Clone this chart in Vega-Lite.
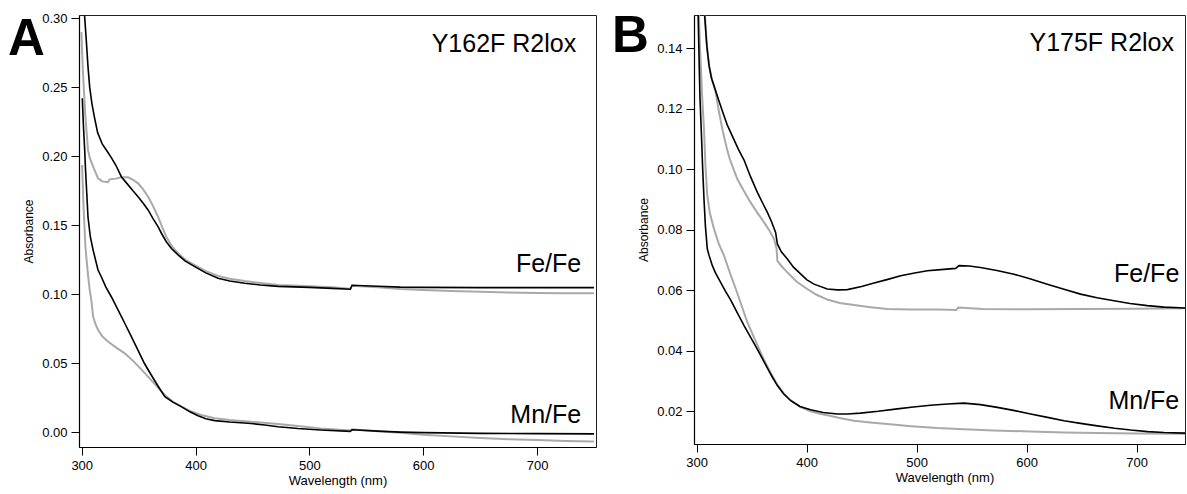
{
"$schema": "https://vega.github.io/schema/vega-lite/v6.json",
"background": "white",
"padding": {"left": 7, "top": 10, "right": 0, "bottom": 0},
"spacing": 14,
"config": {
  "font": "Liberation Sans",
  "view": {"stroke": "#222222", "strokeWidth": 1},
  "axis": {"grid": false, "domainColor": "black", "domainWidth": 1.2, "tickColor": "black", "tickSize": 8, "tickWidth": 1, "labelColor": "black", "labelFontSize": 13, "labelFont": "Liberation Sans", "titleFont": "Liberation Sans", "titleFontWeight": "normal", "titleColor": "black", "labelFlush": false, "labelOverlap": false, "labelPadding": 4},
  "axisX": {"titleFontSize": 13, "titlePadding": 2},
  "axisY": {"titleFontSize": 12, "titlePadding": 6}
},
"datasets": {
  "spectra": [
    {"p":"A","s":"Fe/Fe","t":"a","x":299.7,"y":0.290},{"p":"A","s":"Fe/Fe","t":"a","x":301,"y":0.262},{"p":"A","s":"Fe/Fe","t":"a","x":303.2,"y":0.2287},{"p":"A","s":"Fe/Fe","t":"a","x":305.5,"y":0.2046},{"p":"A","s":"Fe/Fe","t":"a","x":307,"y":0.199},{"p":"A","s":"Fe/Fe","t":"a","x":310,"y":0.1925},{"p":"A","s":"Fe/Fe","t":"a","x":314.3,"y":0.184},{"p":"A","s":"Fe/Fe","t":"a","x":318,"y":0.1818},{"p":"A","s":"Fe/Fe","t":"a","x":323,"y":0.1812},{"p":"A","s":"Fe/Fe","t":"a","x":324.6,"y":0.1833},{"p":"A","s":"Fe/Fe","t":"a","x":330,"y":0.1838},{"p":"A","s":"Fe/Fe","t":"a","x":334.8,"y":0.1848},{"p":"A","s":"Fe/Fe","t":"a","x":340.7,"y":0.1848},{"p":"A","s":"Fe/Fe","t":"a","x":345,"y":0.183},{"p":"A","s":"Fe/Fe","t":"a","x":349.5,"y":0.1804},{"p":"A","s":"Fe/Fe","t":"a","x":354,"y":0.176},{"p":"A","s":"Fe/Fe","t":"a","x":358.3,"y":0.1707},{"p":"A","s":"Fe/Fe","t":"a","x":362,"y":0.165},{"p":"A","s":"Fe/Fe","t":"a","x":367,"y":0.1562},{"p":"A","s":"Fe/Fe","t":"a","x":370.5,"y":0.149},{"p":"A","s":"Fe/Fe","t":"a","x":374.3,"y":0.1417},{"p":"A","s":"Fe/Fe","t":"a","x":379,"y":0.135},{"p":"A","s":"Fe/Fe","t":"a","x":384.6,"y":0.1297},{"p":"A","s":"Fe/Fe","t":"a","x":391,"y":0.125},{"p":"A","s":"Fe/Fe","t":"a","x":399.3,"y":0.1212},{"p":"A","s":"Fe/Fe","t":"a","x":409,"y":0.1168},{"p":"A","s":"Fe/Fe","t":"a","x":419.8,"y":0.1133},{"p":"A","s":"Fe/Fe","t":"a","x":430,"y":0.1112},{"p":"A","s":"Fe/Fe","t":"a","x":443.2,"y":0.1096},{"p":"A","s":"Fe/Fe","t":"a","x":457,"y":0.1082},{"p":"A","s":"Fe/Fe","t":"a","x":472.5,"y":0.1067},{"p":"A","s":"Fe/Fe","t":"a","x":500,"y":0.1058},{"p":"A","s":"Fe/Fe","t":"a","x":520,"y":0.105},{"p":"A","s":"Fe/Fe","t":"a","x":536,"y":0.104},{"p":"A","s":"Fe/Fe","t":"a","x":537.5,"y":0.1062},{"p":"A","s":"Fe/Fe","t":"a","x":560,"y":0.105},{"p":"A","s":"Fe/Fe","t":"a","x":580,"y":0.1038},{"p":"A","s":"Fe/Fe","t":"a","x":600,"y":0.1031},{"p":"A","s":"Fe/Fe","t":"a","x":625,"y":0.1024},{"p":"A","s":"Fe/Fe","t":"a","x":650,"y":0.1018},{"p":"A","s":"Fe/Fe","t":"a","x":675,"y":0.1013},{"p":"A","s":"Fe/Fe","t":"a","x":700,"y":0.101},{"p":"A","s":"Fe/Fe","t":"a","x":725,"y":0.1008},{"p":"A","s":"Fe/Fe","t":"a","x":750,"y":0.1007},
    {"p":"A","s":"Fe/Fe","t":"b","x":302.5,"y":0.302},{"p":"A","s":"Fe/Fe","t":"b","x":304,"y":0.284},{"p":"A","s":"Fe/Fe","t":"b","x":305.5,"y":0.265},{"p":"A","s":"Fe/Fe","t":"b","x":307,"y":0.25},{"p":"A","s":"Fe/Fe","t":"b","x":309,"y":0.238},{"p":"A","s":"Fe/Fe","t":"b","x":311,"y":0.229},{"p":"A","s":"Fe/Fe","t":"b","x":314,"y":0.217},{"p":"A","s":"Fe/Fe","t":"b","x":318,"y":0.209},{"p":"A","s":"Fe/Fe","t":"b","x":321.6,"y":0.2046},{"p":"A","s":"Fe/Fe","t":"b","x":326,"y":0.199},{"p":"A","s":"Fe/Fe","t":"b","x":330,"y":0.1935},{"p":"A","s":"Fe/Fe","t":"b","x":334.8,"y":0.1852},{"p":"A","s":"Fe/Fe","t":"b","x":340,"y":0.18},{"p":"A","s":"Fe/Fe","t":"b","x":345,"y":0.175},{"p":"A","s":"Fe/Fe","t":"b","x":349.5,"y":0.1707},{"p":"A","s":"Fe/Fe","t":"b","x":354,"y":0.166},{"p":"A","s":"Fe/Fe","t":"b","x":358.3,"y":0.1611},{"p":"A","s":"Fe/Fe","t":"b","x":362.5,"y":0.155},{"p":"A","s":"Fe/Fe","t":"b","x":367,"y":0.149},{"p":"A","s":"Fe/Fe","t":"b","x":370.5,"y":0.1435},{"p":"A","s":"Fe/Fe","t":"b","x":374.3,"y":0.1381},{"p":"A","s":"Fe/Fe","t":"b","x":379,"y":0.133},{"p":"A","s":"Fe/Fe","t":"b","x":384.6,"y":0.1285},{"p":"A","s":"Fe/Fe","t":"b","x":391,"y":0.124},{"p":"A","s":"Fe/Fe","t":"b","x":399.3,"y":0.12},{"p":"A","s":"Fe/Fe","t":"b","x":409,"y":0.1155},{"p":"A","s":"Fe/Fe","t":"b","x":419.8,"y":0.1116},{"p":"A","s":"Fe/Fe","t":"b","x":430,"y":0.1096},{"p":"A","s":"Fe/Fe","t":"b","x":443.2,"y":0.108},{"p":"A","s":"Fe/Fe","t":"b","x":457,"y":0.1067},{"p":"A","s":"Fe/Fe","t":"b","x":472.5,"y":0.1057},{"p":"A","s":"Fe/Fe","t":"b","x":500,"y":0.105},{"p":"A","s":"Fe/Fe","t":"b","x":520,"y":0.1043},{"p":"A","s":"Fe/Fe","t":"b","x":536,"y":0.1036},{"p":"A","s":"Fe/Fe","t":"b","x":537.5,"y":0.1065},{"p":"A","s":"Fe/Fe","t":"b","x":560,"y":0.1058},{"p":"A","s":"Fe/Fe","t":"b","x":580,"y":0.1052},{"p":"A","s":"Fe/Fe","t":"b","x":600,"y":0.105},{"p":"A","s":"Fe/Fe","t":"b","x":650,"y":0.1048},{"p":"A","s":"Fe/Fe","t":"b","x":700,"y":0.1048},{"p":"A","s":"Fe/Fe","t":"b","x":750,"y":0.1048},
    {"p":"A","s":"Mn/Fe","t":"a","x":300.3,"y":0.1937},{"p":"A","s":"Mn/Fe","t":"a","x":301.5,"y":0.165},{"p":"A","s":"Mn/Fe","t":"a","x":303.2,"y":0.135},{"p":"A","s":"Mn/Fe","t":"a","x":304,"y":0.1273},{"p":"A","s":"Mn/Fe","t":"a","x":305.5,"y":0.114},{"p":"A","s":"Mn/Fe","t":"a","x":307,"y":0.103},{"p":"A","s":"Mn/Fe","t":"a","x":308.4,"y":0.0959},{"p":"A","s":"Mn/Fe","t":"a","x":310,"y":0.0838},{"p":"A","s":"Mn/Fe","t":"a","x":312,"y":0.0785},{"p":"A","s":"Mn/Fe","t":"a","x":314.3,"y":0.0742},{"p":"A","s":"Mn/Fe","t":"a","x":318,"y":0.0695},{"p":"A","s":"Mn/Fe","t":"a","x":323,"y":0.0657},{"p":"A","s":"Mn/Fe","t":"a","x":330,"y":0.0615},{"p":"A","s":"Mn/Fe","t":"a","x":337.8,"y":0.0572},{"p":"A","s":"Mn/Fe","t":"a","x":346,"y":0.051},{"p":"A","s":"Mn/Fe","t":"a","x":355.4,"y":0.0428},{"p":"A","s":"Mn/Fe","t":"a","x":364,"y":0.035},{"p":"A","s":"Mn/Fe","t":"a","x":373,"y":0.027},{"p":"A","s":"Mn/Fe","t":"a","x":380,"y":0.0222},{"p":"A","s":"Mn/Fe","t":"a","x":387.5,"y":0.0186},{"p":"A","s":"Mn/Fe","t":"a","x":395,"y":0.0155},{"p":"A","s":"Mn/Fe","t":"a","x":405,"y":0.0125},{"p":"A","s":"Mn/Fe","t":"a","x":416.9,"y":0.0101},{"p":"A","s":"Mn/Fe","t":"a","x":430,"y":0.0088},{"p":"A","s":"Mn/Fe","t":"a","x":446.1,"y":0.0077},{"p":"A","s":"Mn/Fe","t":"a","x":460,"y":0.0068},{"p":"A","s":"Mn/Fe","t":"a","x":472.5,"y":0.006},{"p":"A","s":"Mn/Fe","t":"a","x":490,"y":0.0045},{"p":"A","s":"Mn/Fe","t":"a","x":510,"y":0.0028},{"p":"A","s":"Mn/Fe","t":"a","x":536,"y":0.0012},{"p":"A","s":"Mn/Fe","t":"a","x":537.5,"y":0.0022},{"p":"A","s":"Mn/Fe","t":"a","x":560,"y":0.0008},{"p":"A","s":"Mn/Fe","t":"a","x":580,"y":-0.0004},{"p":"A","s":"Mn/Fe","t":"a","x":600,"y":-0.0018},{"p":"A","s":"Mn/Fe","t":"a","x":625,"y":-0.003},{"p":"A","s":"Mn/Fe","t":"a","x":650,"y":-0.0042},{"p":"A","s":"Mn/Fe","t":"a","x":675,"y":-0.0051},{"p":"A","s":"Mn/Fe","t":"a","x":700,"y":-0.0057},{"p":"A","s":"Mn/Fe","t":"a","x":725,"y":-0.0063},{"p":"A","s":"Mn/Fe","t":"a","x":750,"y":-0.0068},
    {"p":"A","s":"Mn/Fe","t":"b","x":300.5,"y":0.242},{"p":"A","s":"Mn/Fe","t":"b","x":301.5,"y":0.222},{"p":"A","s":"Mn/Fe","t":"b","x":302.6,"y":0.2046},{"p":"A","s":"Mn/Fe","t":"b","x":303.2,"y":0.1925},{"p":"A","s":"Mn/Fe","t":"b","x":304.5,"y":0.172},{"p":"A","s":"Mn/Fe","t":"b","x":305.5,"y":0.156},{"p":"A","s":"Mn/Fe","t":"b","x":307.5,"y":0.142},{"p":"A","s":"Mn/Fe","t":"b","x":310,"y":0.132},{"p":"A","s":"Mn/Fe","t":"b","x":314.3,"y":0.1176},{"p":"A","s":"Mn/Fe","t":"b","x":317.2,"y":0.1127},{"p":"A","s":"Mn/Fe","t":"b","x":321,"y":0.1055},{"p":"A","s":"Mn/Fe","t":"b","x":326,"y":0.0982},{"p":"A","s":"Mn/Fe","t":"b","x":332,"y":0.0885},{"p":"A","s":"Mn/Fe","t":"b","x":337.8,"y":0.079},{"p":"A","s":"Mn/Fe","t":"b","x":343.5,"y":0.0695},{"p":"A","s":"Mn/Fe","t":"b","x":349.5,"y":0.0594},{"p":"A","s":"Mn/Fe","t":"b","x":355,"y":0.05},{"p":"A","s":"Mn/Fe","t":"b","x":361.2,"y":0.0413},{"p":"A","s":"Mn/Fe","t":"b","x":367,"y":0.0335},{"p":"A","s":"Mn/Fe","t":"b","x":373,"y":0.0258},{"p":"A","s":"Mn/Fe","t":"b","x":380,"y":0.0218},{"p":"A","s":"Mn/Fe","t":"b","x":387.5,"y":0.0186},{"p":"A","s":"Mn/Fe","t":"b","x":395,"y":0.0148},{"p":"A","s":"Mn/Fe","t":"b","x":402.2,"y":0.012},{"p":"A","s":"Mn/Fe","t":"b","x":409,"y":0.0098},{"p":"A","s":"Mn/Fe","t":"b","x":416.9,"y":0.0084},{"p":"A","s":"Mn/Fe","t":"b","x":430,"y":0.0074},{"p":"A","s":"Mn/Fe","t":"b","x":446.1,"y":0.0065},{"p":"A","s":"Mn/Fe","t":"b","x":460.8,"y":0.0053},{"p":"A","s":"Mn/Fe","t":"b","x":472.5,"y":0.004},{"p":"A","s":"Mn/Fe","t":"b","x":490,"y":0.0027},{"p":"A","s":"Mn/Fe","t":"b","x":510,"y":0.0016},{"p":"A","s":"Mn/Fe","t":"b","x":536,"y":0.0006},{"p":"A","s":"Mn/Fe","t":"b","x":537.5,"y":0.0018},{"p":"A","s":"Mn/Fe","t":"b","x":560,"y":0.0008},{"p":"A","s":"Mn/Fe","t":"b","x":580,"y":0.0001},{"p":"A","s":"Mn/Fe","t":"b","x":600,"y":-0.0003},{"p":"A","s":"Mn/Fe","t":"b","x":650,"y":-0.0008},{"p":"A","s":"Mn/Fe","t":"b","x":700,"y":-0.001},{"p":"A","s":"Mn/Fe","t":"b","x":750,"y":-0.0012},
    {"p":"B","s":"Fe/Fe","t":"a","x":307.5,"y":0.1507},{"p":"B","s":"Fe/Fe","t":"a","x":309.3,"y":0.141},{"p":"B","s":"Fe/Fe","t":"a","x":311.3,"y":0.1342},{"p":"B","s":"Fe/Fe","t":"a","x":314,"y":0.1295},{"p":"B","s":"Fe/Fe","t":"a","x":317.3,"y":0.1254},{"p":"B","s":"Fe/Fe","t":"a","x":320,"y":0.1195},{"p":"B","s":"Fe/Fe","t":"a","x":323.4,"y":0.1132},{"p":"B","s":"Fe/Fe","t":"a","x":327,"y":0.1075},{"p":"B","s":"Fe/Fe","t":"a","x":330,"y":0.1035},{"p":"B","s":"Fe/Fe","t":"a","x":333.5,"y":0.1},{"p":"B","s":"Fe/Fe","t":"a","x":337,"y":0.0967},{"p":"B","s":"Fe/Fe","t":"a","x":343,"y":0.0928},{"p":"B","s":"Fe/Fe","t":"a","x":349,"y":0.089},{"p":"B","s":"Fe/Fe","t":"a","x":355,"y":0.0857},{"p":"B","s":"Fe/Fe","t":"a","x":361.3,"y":0.0824},{"p":"B","s":"Fe/Fe","t":"a","x":366,"y":0.0798},{"p":"B","s":"Fe/Fe","t":"a","x":370.4,"y":0.0769},{"p":"B","s":"Fe/Fe","t":"a","x":372.7,"y":0.0736},{"p":"B","s":"Fe/Fe","t":"a","x":373.4,"y":0.0697},{"p":"B","s":"Fe/Fe","t":"a","x":377,"y":0.068},{"p":"B","s":"Fe/Fe","t":"a","x":382.5,"y":0.0659},{"p":"B","s":"Fe/Fe","t":"a","x":391,"y":0.0628},{"p":"B","s":"Fe/Fe","t":"a","x":400.6,"y":0.0604},{"p":"B","s":"Fe/Fe","t":"a","x":409,"y":0.0585},{"p":"B","s":"Fe/Fe","t":"a","x":418.8,"y":0.0569},{"p":"B","s":"Fe/Fe","t":"a","x":430,"y":0.0558},{"p":"B","s":"Fe/Fe","t":"a","x":443.1,"y":0.0551},{"p":"B","s":"Fe/Fe","t":"a","x":458,"y":0.0544},{"p":"B","s":"Fe/Fe","t":"a","x":473.4,"y":0.0538},{"p":"B","s":"Fe/Fe","t":"a","x":495,"y":0.0536},{"p":"B","s":"Fe/Fe","t":"a","x":518.8,"y":0.0536},{"p":"B","s":"Fe/Fe","t":"a","x":536,"y":0.0535},{"p":"B","s":"Fe/Fe","t":"a","x":538,"y":0.0543},{"p":"B","s":"Fe/Fe","t":"a","x":560,"y":0.0538},{"p":"B","s":"Fe/Fe","t":"a","x":600,"y":0.0537},{"p":"B","s":"Fe/Fe","t":"a","x":650,"y":0.0538},{"p":"B","s":"Fe/Fe","t":"a","x":700,"y":0.0539},{"p":"B","s":"Fe/Fe","t":"a","x":744,"y":0.054},
    {"p":"B","s":"Fe/Fe","t":"b","x":307.3,"y":0.1507},{"p":"B","s":"Fe/Fe","t":"b","x":309.3,"y":0.1405},{"p":"B","s":"Fe/Fe","t":"b","x":311.3,"y":0.1342},{"p":"B","s":"Fe/Fe","t":"b","x":313.5,"y":0.13},{"p":"B","s":"Fe/Fe","t":"b","x":315.8,"y":0.1275},{"p":"B","s":"Fe/Fe","t":"b","x":320,"y":0.1228},{"p":"B","s":"Fe/Fe","t":"b","x":324,"y":0.1185},{"p":"B","s":"Fe/Fe","t":"b","x":327.9,"y":0.1145},{"p":"B","s":"Fe/Fe","t":"b","x":333,"y":0.1105},{"p":"B","s":"Fe/Fe","t":"b","x":338,"y":0.1065},{"p":"B","s":"Fe/Fe","t":"b","x":343.1,"y":0.103},{"p":"B","s":"Fe/Fe","t":"b","x":349,"y":0.0975},{"p":"B","s":"Fe/Fe","t":"b","x":355.2,"y":0.0923},{"p":"B","s":"Fe/Fe","t":"b","x":360,"y":0.0888},{"p":"B","s":"Fe/Fe","t":"b","x":364.3,"y":0.0857},{"p":"B","s":"Fe/Fe","t":"b","x":368,"y":0.0827},{"p":"B","s":"Fe/Fe","t":"b","x":371.8,"y":0.0791},{"p":"B","s":"Fe/Fe","t":"b","x":373.4,"y":0.0753},{"p":"B","s":"Fe/Fe","t":"b","x":377,"y":0.0727},{"p":"B","s":"Fe/Fe","t":"b","x":382.5,"y":0.0703},{"p":"B","s":"Fe/Fe","t":"b","x":388,"y":0.0676},{"p":"B","s":"Fe/Fe","t":"b","x":394.5,"y":0.0654},{"p":"B","s":"Fe/Fe","t":"b","x":400,"y":0.0635},{"p":"B","s":"Fe/Fe","t":"b","x":406.7,"y":0.062},{"p":"B","s":"Fe/Fe","t":"b","x":418.8,"y":0.0604},{"p":"B","s":"Fe/Fe","t":"b","x":428,"y":0.0601},{"p":"B","s":"Fe/Fe","t":"b","x":437,"y":0.0602},{"p":"B","s":"Fe/Fe","t":"b","x":450,"y":0.0612},{"p":"B","s":"Fe/Fe","t":"b","x":461.3,"y":0.0624},{"p":"B","s":"Fe/Fe","t":"b","x":473,"y":0.0635},{"p":"B","s":"Fe/Fe","t":"b","x":485.5,"y":0.0648},{"p":"B","s":"Fe/Fe","t":"b","x":497,"y":0.0656},{"p":"B","s":"Fe/Fe","t":"b","x":509.7,"y":0.0664},{"p":"B","s":"Fe/Fe","t":"b","x":522,"y":0.0668},{"p":"B","s":"Fe/Fe","t":"b","x":535.5,"y":0.0672},{"p":"B","s":"Fe/Fe","t":"b","x":538.5,"y":0.0681},{"p":"B","s":"Fe/Fe","t":"b","x":548,"y":0.068},{"p":"B","s":"Fe/Fe","t":"b","x":558,"y":0.0675},{"p":"B","s":"Fe/Fe","t":"b","x":573,"y":0.0665},{"p":"B","s":"Fe/Fe","t":"b","x":588.5,"y":0.0653},{"p":"B","s":"Fe/Fe","t":"b","x":603,"y":0.0638},{"p":"B","s":"Fe/Fe","t":"b","x":618.8,"y":0.062},{"p":"B","s":"Fe/Fe","t":"b","x":634,"y":0.0603},{"p":"B","s":"Fe/Fe","t":"b","x":649,"y":0.0587},{"p":"B","s":"Fe/Fe","t":"b","x":664,"y":0.0575},{"p":"B","s":"Fe/Fe","t":"b","x":679.5,"y":0.0565},{"p":"B","s":"Fe/Fe","t":"b","x":694,"y":0.0556},{"p":"B","s":"Fe/Fe","t":"b","x":709.7,"y":0.0549},{"p":"B","s":"Fe/Fe","t":"b","x":725,"y":0.0544},{"p":"B","s":"Fe/Fe","t":"b","x":744,"y":0.0541},
    {"p":"B","s":"Mn/Fe","t":"a","x":302,"y":0.152},{"p":"B","s":"Mn/Fe","t":"a","x":303,"y":0.14},{"p":"B","s":"Mn/Fe","t":"a","x":303.8,"y":0.1342},{"p":"B","s":"Mn/Fe","t":"a","x":305,"y":0.124},{"p":"B","s":"Mn/Fe","t":"a","x":306.7,"y":0.1132},{"p":"B","s":"Mn/Fe","t":"a","x":308,"y":0.101},{"p":"B","s":"Mn/Fe","t":"a","x":309.7,"y":0.0912},{"p":"B","s":"Mn/Fe","t":"a","x":312,"y":0.0855},{"p":"B","s":"Mn/Fe","t":"a","x":315.8,"y":0.0802},{"p":"B","s":"Mn/Fe","t":"a","x":320,"y":0.0755},{"p":"B","s":"Mn/Fe","t":"a","x":324.9,"y":0.0714},{"p":"B","s":"Mn/Fe","t":"a","x":330,"y":0.066},{"p":"B","s":"Mn/Fe","t":"a","x":337,"y":0.059},{"p":"B","s":"Mn/Fe","t":"a","x":346,"y":0.0495},{"p":"B","s":"Mn/Fe","t":"a","x":355,"y":0.042},{"p":"B","s":"Mn/Fe","t":"a","x":361,"y":0.0372},{"p":"B","s":"Mn/Fe","t":"a","x":367,"y":0.0329},{"p":"B","s":"Mn/Fe","t":"a","x":373.4,"y":0.0288},{"p":"B","s":"Mn/Fe","t":"a","x":379,"y":0.026},{"p":"B","s":"Mn/Fe","t":"a","x":385.5,"y":0.0237},{"p":"B","s":"Mn/Fe","t":"a","x":394,"y":0.0215},{"p":"B","s":"Mn/Fe","t":"a","x":403.6,"y":0.02},{"p":"B","s":"Mn/Fe","t":"a","x":412,"y":0.0192},{"p":"B","s":"Mn/Fe","t":"a","x":420,"y":0.0186},{"p":"B","s":"Mn/Fe","t":"a","x":430,"y":0.0178},{"p":"B","s":"Mn/Fe","t":"a","x":443,"y":0.0169},{"p":"B","s":"Mn/Fe","t":"a","x":458,"y":0.0163},{"p":"B","s":"Mn/Fe","t":"a","x":473.4,"y":0.0158},{"p":"B","s":"Mn/Fe","t":"a","x":495,"y":0.0151},{"p":"B","s":"Mn/Fe","t":"a","x":518.8,"y":0.0145},{"p":"B","s":"Mn/Fe","t":"a","x":543,"y":0.0141},{"p":"B","s":"Mn/Fe","t":"a","x":570,"y":0.0137},{"p":"B","s":"Mn/Fe","t":"a","x":603.6,"y":0.0133},{"p":"B","s":"Mn/Fe","t":"a","x":634,"y":0.013},{"p":"B","s":"Mn/Fe","t":"a","x":664.3,"y":0.0128},{"p":"B","s":"Mn/Fe","t":"a","x":700,"y":0.0127},{"p":"B","s":"Mn/Fe","t":"a","x":744,"y":0.0126},
    {"p":"B","s":"Mn/Fe","t":"b","x":301.3,"y":0.152},{"p":"B","s":"Mn/Fe","t":"b","x":302,"y":0.14},{"p":"B","s":"Mn/Fe","t":"b","x":303,"y":0.124},{"p":"B","s":"Mn/Fe","t":"b","x":304.3,"y":0.112},{"p":"B","s":"Mn/Fe","t":"b","x":305.5,"y":0.1},{"p":"B","s":"Mn/Fe","t":"b","x":306.7,"y":0.09},{"p":"B","s":"Mn/Fe","t":"b","x":308,"y":0.081},{"p":"B","s":"Mn/Fe","t":"b","x":309.7,"y":0.0736},{"p":"B","s":"Mn/Fe","t":"b","x":311.3,"y":0.0715},{"p":"B","s":"Mn/Fe","t":"b","x":314.3,"y":0.0681},{"p":"B","s":"Mn/Fe","t":"b","x":317,"y":0.0658},{"p":"B","s":"Mn/Fe","t":"b","x":321.8,"y":0.0626},{"p":"B","s":"Mn/Fe","t":"b","x":326,"y":0.0598},{"p":"B","s":"Mn/Fe","t":"b","x":330.9,"y":0.0568},{"p":"B","s":"Mn/Fe","t":"b","x":337,"y":0.0525},{"p":"B","s":"Mn/Fe","t":"b","x":343.1,"y":0.0483},{"p":"B","s":"Mn/Fe","t":"b","x":349,"y":0.0445},{"p":"B","s":"Mn/Fe","t":"b","x":355,"y":0.0406},{"p":"B","s":"Mn/Fe","t":"b","x":360,"y":0.0372},{"p":"B","s":"Mn/Fe","t":"b","x":364,"y":0.0345},{"p":"B","s":"Mn/Fe","t":"b","x":368.5,"y":0.0315},{"p":"B","s":"Mn/Fe","t":"b","x":373.4,"y":0.0285},{"p":"B","s":"Mn/Fe","t":"b","x":379,"y":0.0258},{"p":"B","s":"Mn/Fe","t":"b","x":385.5,"y":0.0235},{"p":"B","s":"Mn/Fe","t":"b","x":394,"y":0.0216},{"p":"B","s":"Mn/Fe","t":"b","x":403.6,"y":0.0205},{"p":"B","s":"Mn/Fe","t":"b","x":415,"y":0.0196},{"p":"B","s":"Mn/Fe","t":"b","x":427.9,"y":0.0191},{"p":"B","s":"Mn/Fe","t":"b","x":437,"y":0.0191},{"p":"B","s":"Mn/Fe","t":"b","x":449,"y":0.0194},{"p":"B","s":"Mn/Fe","t":"b","x":465,"y":0.02},{"p":"B","s":"Mn/Fe","t":"b","x":482.5,"y":0.0208},{"p":"B","s":"Mn/Fe","t":"b","x":497,"y":0.0214},{"p":"B","s":"Mn/Fe","t":"b","x":512.7,"y":0.022},{"p":"B","s":"Mn/Fe","t":"b","x":528,"y":0.0224},{"p":"B","s":"Mn/Fe","t":"b","x":543,"y":0.0227},{"p":"B","s":"Mn/Fe","t":"b","x":558,"y":0.0222},{"p":"B","s":"Mn/Fe","t":"b","x":573.4,"y":0.0213},{"p":"B","s":"Mn/Fe","t":"b","x":588,"y":0.0203},{"p":"B","s":"Mn/Fe","t":"b","x":603.6,"y":0.0191},{"p":"B","s":"Mn/Fe","t":"b","x":619,"y":0.018},{"p":"B","s":"Mn/Fe","t":"b","x":634,"y":0.0169},{"p":"B","s":"Mn/Fe","t":"b","x":649,"y":0.016},{"p":"B","s":"Mn/Fe","t":"b","x":664.3,"y":0.0152},{"p":"B","s":"Mn/Fe","t":"b","x":680,"y":0.0144},{"p":"B","s":"Mn/Fe","t":"b","x":694.6,"y":0.0138},{"p":"B","s":"Mn/Fe","t":"b","x":710,"y":0.0133},{"p":"B","s":"Mn/Fe","t":"b","x":724.9,"y":0.013},{"p":"B","s":"Mn/Fe","t":"b","x":744,"y":0.0128}
  ],
  "labels": [
    {"p":"A","label":"Y162F R2lox","x":734.4,"y":0.2757},
    {"p":"A","label":"Fe/Fe","x":738.8,"y":0.1162},
    {"p":"A","label":"Mn/Fe","x":738.8,"y":0.0067},
    {"p":"B","label":"Y175F R2lox","x":734,"y":0.1391},
    {"p":"B","label":"Fe/Fe","x":738.8,"y":0.0626},
    {"p":"B","label":"Mn/Fe","x":738.8,"y":0.0208}
  ],
  "letters": [
    {"p":"A","label":"A","x":235.2,"y":0.2734},
    {"p":"B","label":"B","x":223.1,"y":0.1386}
  ]
},
"hconcat": [
  {
    "width": 517, "height": 432,
    "encoding": {
      "x": {"field": "x", "type": "quantitative", "scale": {"domain": [297.6, 751.8], "nice": false, "zero": false}, "axis": {"title": "Wavelength (nm)", "values": [300, 400, 500, 600, 700], "format": "d"}},
      "y": {"field": "y", "type": "quantitative", "scale": {"domain": [-0.0107, 0.3024], "nice": false, "zero": false}, "axis": {"title": "Absorbance", "values": [0, 0.05, 0.1, 0.15, 0.2, 0.25, 0.3], "format": ".2f"}}
    },
    "layer": [
      {"data": {"name": "spectra"}, "transform": [{"filter": "datum.p === 'A' && datum.t === 'a'"}], "mark": {"type": "line", "color": "#a9a9a9", "strokeWidth": 2, "clip": true}, "encoding": {"detail": {"field": "s"}}},
      {"data": {"name": "spectra"}, "transform": [{"filter": "datum.p === 'A' && datum.t === 'b'"}], "mark": {"type": "line", "color": "#000000", "strokeWidth": 1.6, "clip": true}, "encoding": {"detail": {"field": "s"}}},
      {"data": {"name": "labels"}, "transform": [{"filter": "datum.p === 'A'"}], "mark": {"type": "text", "align": "right", "baseline": "alphabetic", "fontSize": 25, "font": "Liberation Sans", "color": "black"}, "encoding": {"text": {"field": "label"}}},
      {"data": {"name": "letters"}, "transform": [{"filter": "datum.p === 'A'"}], "mark": {"type": "text", "align": "left", "baseline": "alphabetic", "fontSize": 51, "fontWeight": "bold", "font": "Liberation Sans", "color": "black"}, "encoding": {"text": {"field": "label"}}}
    ]
  },
  {
    "width": 491, "height": 429,
    "encoding": {
      "x": {"field": "x", "type": "quantitative", "scale": {"domain": [297.6, 744], "nice": false, "zero": false}, "axis": {"title": "Wavelength (nm)", "values": [300, 400, 500, 600, 700], "format": "d", "titleX": 250.5}},
      "y": {"field": "y", "type": "quantitative", "scale": {"domain": [0.0092, 0.1509], "nice": false, "zero": false}, "axis": {"title": "Absorbance", "values": [0.02, 0.04, 0.06, 0.08, 0.1, 0.12, 0.14], "format": ".2f"}}
    },
    "layer": [
      {"data": {"name": "spectra"}, "transform": [{"filter": "datum.p === 'B' && datum.t === 'a'"}], "mark": {"type": "line", "color": "#a9a9a9", "strokeWidth": 2, "clip": true}, "encoding": {"detail": {"field": "s"}}},
      {"data": {"name": "spectra"}, "transform": [{"filter": "datum.p === 'B' && datum.t === 'b'"}], "mark": {"type": "line", "color": "#000000", "strokeWidth": 1.6, "clip": true}, "encoding": {"detail": {"field": "s"}}},
      {"data": {"name": "labels"}, "transform": [{"filter": "datum.p === 'B'"}], "mark": {"type": "text", "align": "right", "baseline": "alphabetic", "fontSize": 25, "font": "Liberation Sans", "color": "black"}, "encoding": {"text": {"field": "label"}}},
      {"data": {"name": "letters"}, "transform": [{"filter": "datum.p === 'B'"}], "mark": {"type": "text", "align": "left", "baseline": "alphabetic", "fontSize": 51, "fontWeight": "bold", "font": "Liberation Sans", "color": "black"}, "encoding": {"text": {"field": "label"}}}
    ]
  }
]
}
